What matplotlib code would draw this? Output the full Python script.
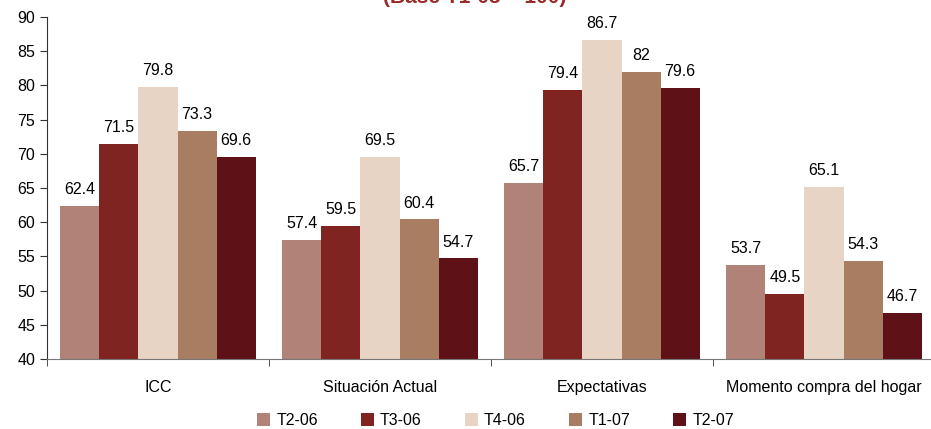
import matplotlib.pyplot as plt
import numpy as np

plt.rcParams['font.family'] = ['Liberation Sans', 'DejaVu Sans']

# Data
categories = ['ICC', 'Situación Actual', 'Expectativas', 'Momento compra del hogar']
series = ['T2-06', 'T3-06', 'T4-06', 'T1-07', 'T2-07']
values = [
    [62.4, 57.4, 65.7, 53.7],
    [71.5, 59.5, 79.4, 49.5],
    [79.8, 69.5, 86.7, 65.1],
    [73.3, 60.4, 82, 54.3],
    [69.6, 54.7, 79.6, 46.7],
]
labels = [
    ['62.4', '57.4', '65.7', '53.7'],
    ['71.5', '59.5', '79.4', '49.5'],
    ['79.8', '69.5', '86.7', '65.1'],
    ['73.3', '60.4', '82', '54.3'],
    ['69.6', '54.7', '79.6', '46.7'],
]
colors = ['#B08278', '#7F2420', '#E8D4C4', '#A87D62', '#5E1218']

fig = plt.figure(figsize=(9.31, 4.29), dpi=100)
ax = fig.add_axes([47 / 931, 1 - 359 / 429, 888 / 931, 342 / 429])

x = np.arange(len(categories))
w = 0.176
for i, s in enumerate(series):
    pos = x + (i - 2) * w
    ax.bar(pos, values[i], w, bottom=0, color=colors[i], label=s)
    for p, v, t in zip(pos, values[i], labels[i]):
        ax.text(p, v + 1.3, t, ha='center', va='bottom', fontsize=11.5)

ax.set_ylim(40, 90)
ax.set_yticks(range(40, 91, 5))
ax.set_xlim(-0.5, len(categories) - 0.5)
ax.set_xticks(x)
ax.set_xticklabels(categories, fontsize=11.5)
ax.tick_params(axis='x', length=0, pad=15)
ax.set_xticks(np.arange(-0.5, len(categories), 1), minor=True)
ax.tick_params(axis='x', which='minor', length=5, direction='out', color='#333333')
ax.tick_params(axis='y', labelsize=11.5, length=5, color='#333333')
for side in ['top', 'right']:
    ax.spines[side].set_visible(False)
ax.spines['left'].set_color('#333333')
ax.spines['bottom'].set_color('#777777')

fig.text(0.51, 1.005, '(Base T1-05 = 100)', ha='center', va='center',
         fontsize=15, fontweight='bold', color='#9B2A2A')

ax.legend(loc='center', bbox_to_anchor=(0.505, -0.18), ncol=5, frameon=False,
          fontsize=11.5, handlelength=0.8, handleheight=0.8, columnspacing=2.7,
          handletextpad=0.4, borderaxespad=0)

fig.savefig('out.png', dpi=100)
